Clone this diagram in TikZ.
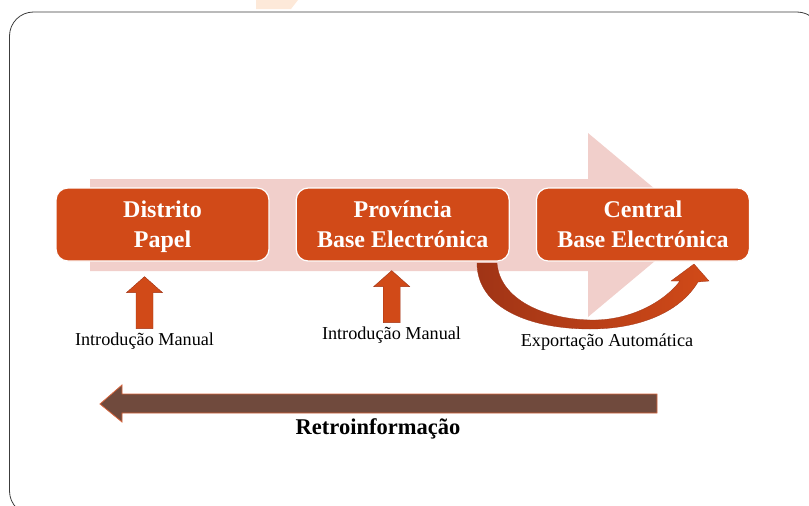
\documentclass[tikz,border=0pt]{standalone}
\usepackage{fontspec}
\setmainfont{Liberation Serif}
\usetikzlibrary{positioning,calc}

\definecolor{boxorange}{RGB}{209,74,24}
\definecolor{bandpink}{RGB}{241,207,203}
\definecolor{feedbrown}{RGB}{112,74,61}
\definecolor{feededge}{RGB}{214,100,60}
\definecolor{darkrust}{RGB}{160,52,22}
\definecolor{framegray}{RGB}{60,60,60}
\definecolor{peach}{RGB}{253,233,217}

\begin{document}
\begin{tikzpicture}[x=1pt, y=-1pt,
        levelbox/.style={rectangle, rounded corners=12pt, fill=boxorange, draw=white, line width=1.2pt, minimum width=213pt, minimum height=73pt, align=center, text=white, font=\fontsize{24}{30}\selectfont\bfseries},
        caption/.style={inner sep=0pt, font=\fontsize{18.2}{20}\selectfont},
        inputarrow/.style={fill=boxorange, draw=darkrust, line width=0.4pt},
        node distance=26pt
    ]
    \useasboundingbox (0,0) rectangle (809,506);

    %Frame and background band
    \fill[peach] (256,0) -- (298,0) -- (291,9) -- (256,9) -- cycle;
    \draw[framegray, line width=0.8pt, rounded corners=24pt] (9.5,12) rectangle (821,515);
    \fill[bandpink] (90,179) -- (588,179) -- (588,133) -- (698,225) -- (588,317) -- (588,271) -- (90,271) -- cycle;

    %Nodes: levels
    \node[levelbox] (distrito)                    at (162.5,224.5) {\rule{0pt}{25pt}Distrito\\Papel\strut};
    \node[levelbox] (provincia) [right=of distrito]  {\rule{0pt}{25pt}Província\\Base Electrónica\strut};
    \node[levelbox] (central)   [right=of provincia] {\rule{0pt}{25pt}Central\\Base Electrónica\strut};

    %Nodes: captions
    \node[caption] (manual_left)  at (144.5,341) {Introdução Manual};
    \node[caption] (manual_right) at (391.5,335) {Introdução Manual};
    \node[caption] (export)       at (607,342)   {Exportação Automática};
    \node[inner sep=0pt, font=\fontsize{22.5}{24}\selectfont\bfseries] (feedback) at (378,429) {Retroinformação};

    %Input arrows
    \coordinate (in_left)  at ($(distrito.south)+(-18,15)$);
    \coordinate (in_right) at ($(provincia.south)+(-11,9)$);
    \path[inputarrow] (in_left) -- ++(18,16) -- ++(-9.5,0) -- ++(0,36) -- ++(-17,0) -- ++(0,-36) -- ++(-9.5,0) -- cycle;
    \path[inputarrow] (in_right) -- ++(18,16) -- ++(-9.5,0) -- ++(0,36) -- ++(-17,0) -- ++(0,-36) -- ++(-9.5,0) -- cycle;

    %Curved arrow: export
    \shade[left color=darkrust, right color=boxorange, draw=darkrust, line width=0.3pt]
        (477,263) -- (497,263)
        .. controls (500,300) and (545,319) .. (590,320)
        .. controls (630,321) and (664,302) .. (680,281)
        -- (671,281) -- (694,264) -- (709,281) -- (698,282)
        .. controls (680,312) and (640,329) .. (590,329)
        .. controls (530,329) and (477,308) .. (477,263) -- cycle;

    %Feedback arrow
    \path[fill=feedbrown, draw=feededge, line width=0.8pt] (100,404) -- (122,385) -- (122,394) -- (657,394) -- (657,413) -- (122,413) -- (122,422) -- cycle;
\end{tikzpicture}
\end{document}
